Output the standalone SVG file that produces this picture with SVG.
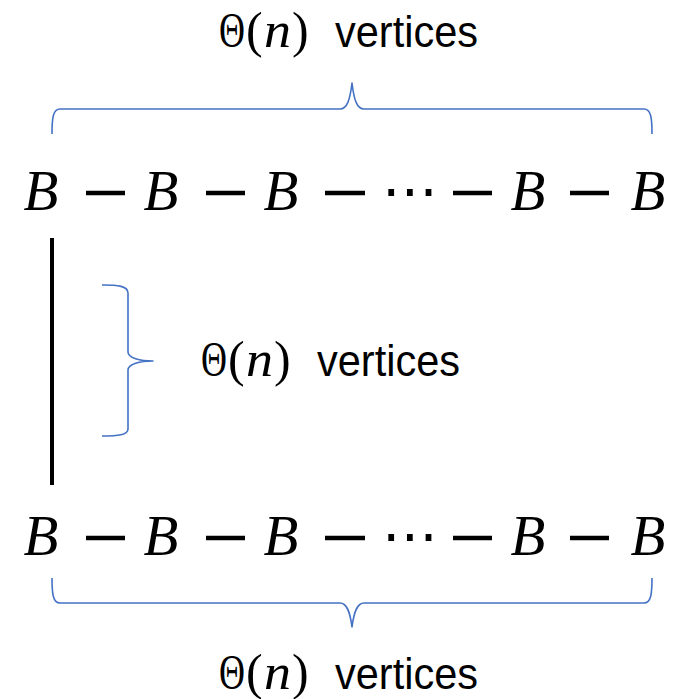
<svg xmlns="http://www.w3.org/2000/svg" width="692" height="699" viewBox="0 0 692 699">
<defs>
<style>
.bg{fill:#ffffff}
.node{font-family:"Liberation Serif",serif;font-style:italic;font-size:57px;fill:#000;text-anchor:middle}
.edge{stroke:#000;stroke-width:4.5;fill:none}
.vedge{stroke:#000;stroke-width:4;fill:none}
.brace{stroke:#4472C4;stroke-width:1.6;fill:none;stroke-linejoin:round}
.math{font-family:"Liberation Serif",serif;font-size:50px;fill:#000}
.mi{font-style:italic}
.word{font-family:"Liberation Sans",Arial,sans-serif;font-size:44px;fill:#000}
.dots{font-family:"DejaVu Sans",sans-serif;font-size:56px;fill:#000;text-anchor:middle}
</style>
</defs>
<rect class="bg" x="0" y="0" width="692" height="699"/>

<g id="connectors">
  <line class="edge" x1="86" y1="193" x2="125" y2="193"/>
  <line class="edge" x1="206" y1="193" x2="245" y2="193"/>
  <line class="edge" x1="325" y1="193" x2="365" y2="193"/>
  <line class="edge" x1="453" y1="193" x2="492" y2="193"/>
  <line class="edge" x1="570" y1="193" x2="609" y2="193"/>
  <line class="edge" x1="86" y1="538" x2="125" y2="538"/>
  <line class="edge" x1="206" y1="538" x2="245" y2="538"/>
  <line class="edge" x1="325" y1="538" x2="365" y2="538"/>
  <line class="edge" x1="453" y1="538" x2="492" y2="538"/>
  <line class="edge" x1="570" y1="538" x2="609" y2="538"/>
  <line class="vedge" x1="52" y1="238" x2="52" y2="485"/>
</g>

<g id="top-row">
  <g id="t1"><text class="node" x="41" y="210">B</text></g>
  <g id="t2"><text class="node" x="161" y="210">B</text></g>
  <g id="t3"><text class="node" x="281" y="210">B</text></g>
  <g id="t-dots"><text class="dots" x="410" y="210">⋯</text></g>
  <g id="t5"><text class="node" x="528" y="210">B</text></g>
  <g id="t6"><text class="node" x="648" y="210">B</text></g>
</g>

<g id="bottom-row">
  <g id="b1"><text class="node" x="41" y="555">B</text></g>
  <g id="b2"><text class="node" x="161" y="555">B</text></g>
  <g id="b3"><text class="node" x="281" y="555">B</text></g>
  <g id="b-dots"><text class="dots" x="410" y="555">⋯</text></g>
  <g id="b5"><text class="node" x="528" y="555">B</text></g>
  <g id="b6"><text class="node" x="648" y="555">B</text></g>
</g>

<g id="top-brace">
  <path class="brace" d="M52,134 C52,118 53,109 60,109 L340,109 C347,109 350,100 352,83 C354,100 357,109 364,109 L644,109 C651,109 652,118 652,134"/>
</g>
<g id="bottom-brace">
  <path class="brace" d="M52,578 C52,594 53,603 60,603 L340,603 C347,603 350,612 352,627 C354,612 357,603 364,603 L644,603 C651,603 652,594 652,578"/>
</g>
<g id="middle-brace">
  <path class="brace" d="M102,285 C118,285 128,286 128,293 L128,352 C128,358 140,361 153,361 C140,361 128,364 128,370 L128,429 C128,435 118,436 102,436"/>
</g>

<g id="top-label">
  <text class="math" transform="translate(219,47) scale(0.72,1)" x="0" y="0">Θ</text>
  <text class="math" x="246" y="47">(</text>
  <text class="math mi" x="264" y="47" textLength="27" lengthAdjust="spacingAndGlyphs">n</text>
  <text class="math" x="292" y="47">)</text>
  <text class="word" x="335" y="47" textLength="143" lengthAdjust="spacingAndGlyphs">vertices</text>
</g>
<g id="middle-label">
  <text class="math" transform="translate(201,376) scale(0.72,1)" x="0" y="0">Θ</text>
  <text class="math" x="228" y="376">(</text>
  <text class="math mi" x="246" y="376" textLength="27" lengthAdjust="spacingAndGlyphs">n</text>
  <text class="math" x="274" y="376">)</text>
  <text class="word" x="317" y="376" textLength="143" lengthAdjust="spacingAndGlyphs">vertices</text>
</g>
<g id="bottom-label">
  <text class="math" transform="translate(219,689) scale(0.72,1)" x="0" y="0">Θ</text>
  <text class="math" x="246" y="689">(</text>
  <text class="math mi" x="264" y="689" textLength="27" lengthAdjust="spacingAndGlyphs">n</text>
  <text class="math" x="292" y="689">)</text>
  <text class="word" x="335" y="689" textLength="143" lengthAdjust="spacingAndGlyphs">vertices</text>
</g>
</svg>
